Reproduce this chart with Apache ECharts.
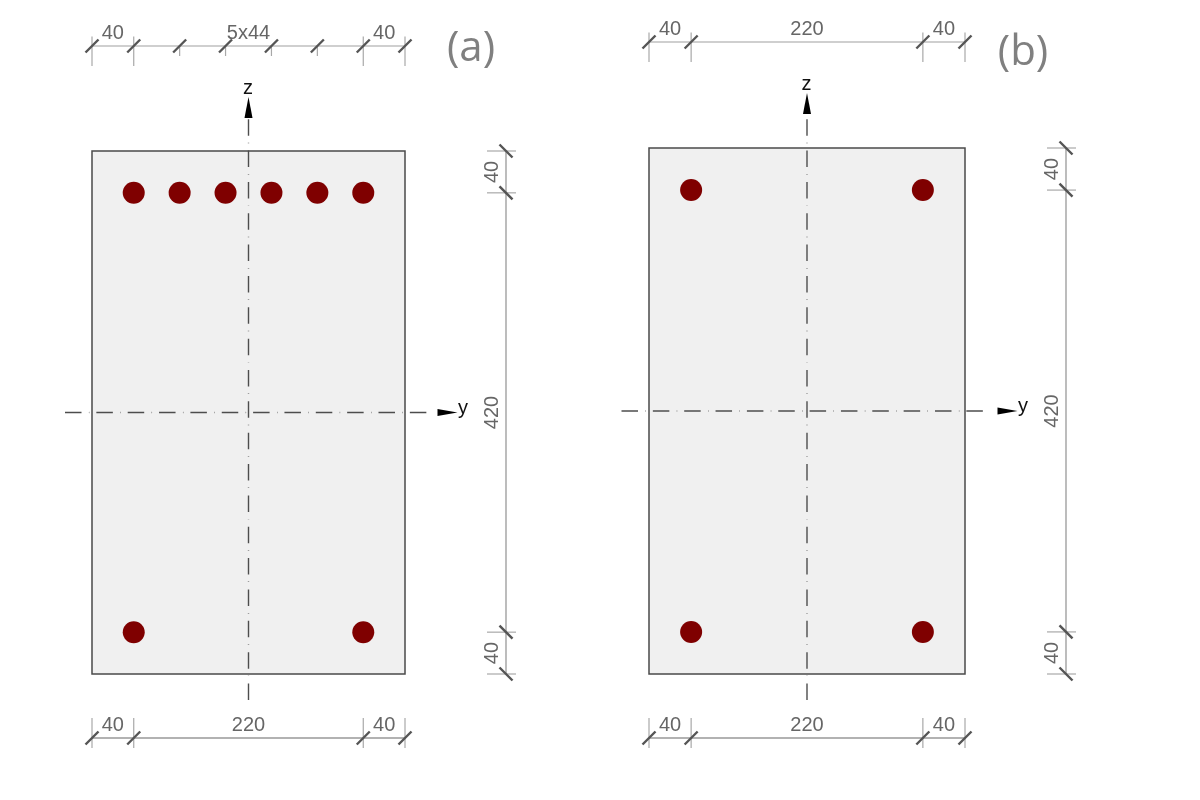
<!DOCTYPE html>
<html><head><meta charset="utf-8">
<style>html,body{margin:0;background:#fff}#c{width:1200px;height:800px}</style>
<script src="https://cdn.jsdelivr.net/npm/echarts@6/dist/echarts.min.js"></script>
</head><body><div id="c"></div>
<script>
// Section size (mm)
const sectionWidth = 300, sectionHeight = 500;
// Rebar positions (mm): [y, z]
const barsA = [[40,460],[84,460],[128,460],[172,460],[216,460],[260,460],[40,40],[260,40]];
const barsB = [[40,460],[260,460],[40,40],[260,40]];
// Dimension chains (mm)
const topTicksA = [0,40,84,128,172,216,260,300];
const topLabelsA = [[20,'40'],[150,'5x44'],[280,'40']];
const topTicksB = [0,40,260,300];
const topLabelsB = [[20,'40'],[150,'220'],[280,'40']];
const bottomTicks = [0,40,260,300];
const bottomLabels = [[20,'40'],[150,'220'],[280,'40']];
const sideTicks = [0,40,460,500];
const sideLabels = [[20,'40'],[250,'420'],[480,'40']];
const panelNames = ['(a)','(b)'];

const frames = [
  {l:92,  r:405, t:151, b:674, topY:46, botY:738, sideX:506, sideTx:492, bars:barsA, tt:topTicksA, tl:topLabelsA,
   hEnd:[65,427.5], hHead:447.5, vEnd:[700,119], vHead:107.5, zLab:[248,88], yLab:[463,408], cx:248.5, cy:412.5},
  {l:649, r:965, t:148, b:674, topY:42, botY:738, sideX:1066, sideTx:1052, bars:barsB, tt:topTicksB, tl:topLabelsB,
   hEnd:[621.5,987], hHead:1007.5, vEnd:[700,115], vHead:103.5, zLab:[806.5,84], yLab:[1023,406], cx:806.5, cy:411}
];
const xLo=-80,xHi=420,yLo=-110,yHi=640;
const scale = f => ({sx:(f.r-f.l)/sectionWidth, sy:(f.b-f.t)/sectionHeight});
const mmX=(f,px)=>(px-f.l)/scale(f).sx, mmY=(f,py)=>(f.b-py)/scale(f).sy;

const grids=[],xAxes=[],yAxes=[],series=[];
const font='20px "Liberation Sans"';
frames.forEach((f,i)=>{
  const {sx,sy}=scale(f);
  grids.push({left:f.l+xLo*sx,top:f.t-(yHi-sectionHeight)*sy,width:(xHi-xLo)*sx,height:(yHi-yLo)*sy,containLabel:false});
  xAxes.push({type:'value',gridIndex:i,min:xLo,max:xHi,show:false});
  yAxes.push({type:'value',gridIndex:i,min:yLo,max:yHi,show:false});
  const base={xAxisIndex:i,yAxisIndex:i,silent:true,animation:false};
  // section rectangle
  series.push({...base,type:'custom',z:1,clip:false,data:[[0,0,sectionWidth,sectionHeight]],
    renderItem:(p,api)=>{const a=api.coord([api.value(0),api.value(1)]),b=api.coord([api.value(2),api.value(3)]);
      return {type:'rect',shape:{x:a[0],y:b[1],width:b[0]-a[0],height:a[1]-b[1]},style:{fill:'#f0f0f0',stroke:'#4a4a4a',lineWidth:1.5}};}});
  // centre lines
  const dash=[16.5,7.4,0.45,7];
  const ls={color:'#4d4d4d',width:1.4,type:dash,cap:'butt'};
  series.push({...base,type:'line',z:2,showSymbol:false,lineStyle:ls,clip:false,
    data:[[mmX(f,f.hEnd[0]),sectionHeight/2],[mmX(f,f.hEnd[1]),sectionHeight/2]]});
  series.push({...base,type:'line',z:2,showSymbol:false,lineStyle:ls,clip:false,
    data:[[sectionWidth/2,mmY(f,f.vEnd[0])],[sectionWidth/2,mmY(f,f.vEnd[1])]]});
  // arrow heads
  series.push({...base,type:'scatter',z:3,symbol:'triangle',symbolSize:[8,21],symbolRotate:0,itemStyle:{color:'#000',opacity:1},
    data:[[sectionWidth/2,mmY(f,f.vHead)]]});
  series.push({...base,type:'scatter',z:3,symbol:'triangle',symbolSize:[7,20],symbolRotate:-90,itemStyle:{color:'#000',opacity:1},
    data:[[mmX(f,f.hHead),sectionHeight/2]]});
  // rebars
  series.push({...base,type:'scatter',z:4,symbol:'circle',symbolSize:22,itemStyle:{color:'#7f0000',opacity:1},data:f.bars});
  // dimension chains
  const hChain=(ticks,labels,py,color,labOff,up)=>{
    series.push({...base,type:'custom',z:2,clip:false,data:ticks.map(v=>[v,mmY(f,py)]),
      renderItem:(p,api)=>{
        const c=api.coord([api.value(0),api.value(1)]),kids=[];
        const isEnd=[0,sectionWidth].includes(api.value(0))||[40,260].includes(api.value(0));
        if(isEnd) kids.push({type:'line',shape:{x1:c[0],y1:c[1]-(up?9.5:20),x2:c[0],y2:c[1]+(up?20:10)},style:{stroke:'#a8a8a8',lineWidth:1.2}});
        else kids.push({type:'line',shape:{x1:c[0],y1:c[1]-1,x2:c[0],y2:c[1]+10},style:{stroke:'#a8a8a8',lineWidth:1.2}});
        if(p.dataIndex<ticks.length-1){const d=api.coord([ticks[p.dataIndex+1],api.value(1)]);
          kids.push({type:'line',shape:{x1:c[0],y1:c[1],x2:d[0],y2:c[1]},style:{stroke:color,lineWidth:1.2}});}
        kids.push({type:'line',shape:{x1:c[0]-6.5,y1:c[1]+6.5,x2:c[0]+6.5,y2:c[1]-6.5},style:{stroke:'#555',lineWidth:2.4}});
        return {type:'group',children:kids};
      }});
    series.push({...base,type:'custom',z:5,clip:false,data:labels.map(l=>[l[0],mmY(f,py)]),
      renderItem:(p,api)=>{const c=api.coord([api.value(0),api.value(1)]);
        return {type:'text',x:c[0],y:c[1]+labOff,style:{text:labels[p.dataIndex][1],font,fill:'#666',align:'center',verticalAlign:'middle'}};}});
  };
  hChain(f.tt,f.tl,f.topY,'#a0a0a0',-13,true);
  hChain(bottomTicks,bottomLabels,f.botY,'#666',-13,false);
  // side chain
  series.push({...base,type:'custom',z:2,clip:false,data:sideTicks.map(v=>[mmX(f,f.sideX),v]),
    renderItem:(p,api)=>{
      const c=api.coord([api.value(0),api.value(1)]),kids=[];
      kids.push({type:'line',shape:{x1:c[0]-19,y1:c[1],x2:c[0]+10,y2:c[1]},style:{stroke:'#a8a8a8',lineWidth:1.2}});
      if(p.dataIndex<sideTicks.length-1){const d=api.coord([api.value(0),sideTicks[p.dataIndex+1]]);
        kids.push({type:'line',shape:{x1:c[0],y1:c[1],x2:c[0],y2:d[1]},style:{stroke:'#909090',lineWidth:1.2}});}
      kids.push({type:'line',shape:{x1:c[0]-6.5,y1:c[1]-6.5,x2:c[0]+6.5,y2:c[1]+6.5},style:{stroke:'#555',lineWidth:2.4}});
      return {type:'group',children:kids};
    }});
  series.push({...base,type:'custom',z:5,clip:false,data:sideLabels.map(l=>[mmX(f,f.sideTx),l[0]]),
    renderItem:(p,api)=>{const c=api.coord([api.value(0),api.value(1)]);
      return {type:'text',x:c[0],y:c[1],rotation:Math.PI/2,style:{text:sideLabels[p.dataIndex][1],font,fill:'#666',align:'center',verticalAlign:'middle'}};}});
  // axis letters
  const letters=[['z',f.zLab],['y',f.yLab]];
  series.push({...base,type:'custom',z:5,clip:false,data:letters.map(l=>[mmX(f,l[1][0]),mmY(f,l[1][1])]),
    renderItem:(p,api)=>{const c=api.coord([api.value(0),api.value(1)]);
      return {type:'text',x:c[0],y:c[1],style:{text:letters[p.dataIndex][0],font:'20px "Liberation Sans"',fill:'#111',align:'center',verticalAlign:'middle'}};}});
});
const chart=echarts.init(document.getElementById('c'),null,{renderer:'canvas'});
chart.setOption({
  backgroundColor:'#fff',animation:false,tooltip:{show:false},legend:{show:false},
  title:[
    {text:panelNames[0],left:471,top:49,textAlign:'center',textVerticalAlign:'middle',padding:0,textStyle:{fontFamily:'Open Sans',fontWeight:'normal',fontSize:42,color:'#808080'}},
    {text:panelNames[1],left:1023,top:53,textAlign:'center',textVerticalAlign:'middle',padding:0,textStyle:{fontFamily:'Open Sans',fontWeight:'normal',fontSize:42,color:'#808080'}}
  ],
  grid:grids,xAxis:xAxes,yAxis:yAxes,series
});
</script></body></html>
